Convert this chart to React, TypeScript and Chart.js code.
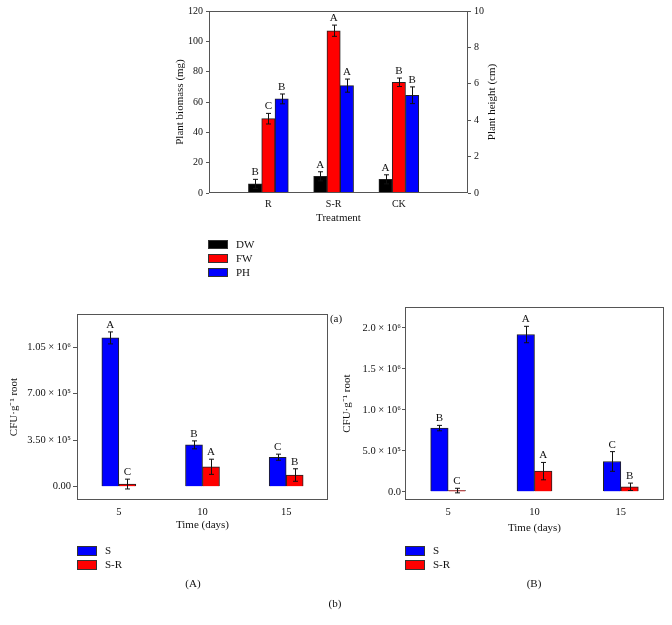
import React, { useEffect, useRef } from 'react';
import { Chart, registerables } from 'chart.js';

Chart.register(...registerables);

const FONT = '"Liberation Serif", "Times New Roman", Times, serif';
const INK = '#111111';
const AXIS = '#555555';
const BLUE = '#0000ff';
const RED = '#ff0000';
const BLACK = '#000000';

// ---------- (a) plant growth ----------
const treatments = ['R', 'S-R', 'CK'];
const dwValues = [6, 11, 9];
const dwErrors = [3, 3, 3];
const dwLetters = ['B', 'A', 'A'];
const fwValues = [49, 107, 73];
const fwErrors = [3.5, 3.7, 2.8];
const fwLetters = ['C', 'A', 'B'];
const phValues = [5.17, 5.9, 5.37];
const phErrors = [0.27, 0.36, 0.46];
const phLetters = ['B', 'A', 'B'];
const biomassTicks = [0, 20, 40, 60, 80, 100, 120];
const heightTicks = [0, 2, 4, 6, 8, 10];

// ---------- (b) colonisation ----------
const days = ['5', '10', '15'];

const sValuesA = [1120000, 315000, 222000];
const sErrorsA = [45000, 30000, 23000];
const sLettersA = ['A', 'B', 'C'];
const srValuesA = [20000, 150000, 88000];
const srErrorsA = [37000, 57000, 47000];
const srLettersA = ['C', 'A', 'B'];
const yTicksA = [0, 350000, 700000, 1050000];
const yTickLabelsA = ['0.00', '3.50 × 10⁵', '7.00 × 10⁵', '1.05 × 10⁶'];

const sValuesB = [777000, 1918000, 370000];
const sErrorsB = [33000, 100000, 120000];
const sLettersB = ['B', 'A', 'C'];
const srValuesB = [15000, 252000, 61000];
const srErrorsB = [28000, 106000, 45000];
const srLettersB = ['C', 'A', 'B'];
const yTicksB = [0, 500000, 1000000, 1500000, 2000000];
const yTickLabelsB = ['0.0', '5.0 × 10⁵', '1.0 × 10⁶', '1.5 × 10⁶', '2.0 × 10⁶'];

const font = (size: number) => ({ family: FONT, size, weight: 'normal' as const });

function errorPlugin(errors: number[][], letters: string[][]) {
  return {
    id: 'errorBars',
    afterDatasetsDraw(chart: any) {
      const ctx = chart.ctx;
      ctx.save();
      chart.data.datasets.forEach((ds: any, i: number) => {
        const meta = chart.getDatasetMeta(i);
        const scale = chart.scales[meta.yAxisID];
        meta.data.forEach((bar: any, j: number) => {
          const raw = ds.data[j];
          const v = typeof raw === 'object' ? raw.y : raw;
          const e = (errors[i] && errors[i][j]) || 0;
          const x = Math.round(bar.x) + 0.5;
          const yT = scale.getPixelForValue(v + e);
          const yB = scale.getPixelForValue(v - e);
          ctx.strokeStyle = INK;
          ctx.lineWidth = 1;
          ctx.beginPath();
          ctx.moveTo(x, yT);
          ctx.lineTo(x, yB);
          ctx.moveTo(x - 2.5, yT);
          ctx.lineTo(x + 2.5, yT);
          ctx.moveTo(x - 2.5, yB);
          ctx.lineTo(x + 2.5, yB);
          ctx.stroke();
          const L = letters[i] && letters[i][j];
          if (L) {
            ctx.fillStyle = INK;
            ctx.font = `11px ${FONT}`;
            ctx.textAlign = 'center';
            ctx.textBaseline = 'alphabetic';
            ctx.fillText(L, bar.x, yT - 4);
          }
        });
      });
      ctx.restore();
    },
  };
}

const framePlugin = {
  id: 'frame',
  afterDatasetsDraw(chart: any) {
    const { ctx, chartArea } = chart;
    const l = Math.round(chartArea.left) + 0.5;
    const t = Math.round(chartArea.top) + 0.5;
    const r = Math.round(chartArea.right) - 0.5;
    const b = Math.round(chartArea.bottom) - 0.5;
    ctx.save();
    ctx.strokeStyle = AXIS;
    ctx.lineWidth = 1;
    ctx.strokeRect(l, t, r - l, b - t);
    ctx.restore();
  },
};

function legendPlugin(x: number, y: number, w: number, h: number, row: number, textDx: number) {
  return {
    id: 'boxLegend',
    afterDraw(chart: any) {
      const ctx = chart.ctx;
      ctx.save();
      chart.data.datasets.forEach((ds: any, i: number) => {
        const yy = y + i * row;
        ctx.fillStyle = ds.backgroundColor;
        ctx.fillRect(x, yy, w, h);
        ctx.strokeStyle = '#333333';
        ctx.lineWidth = 1;
        ctx.strokeRect(x + 0.5, yy + 0.5, w - 1, h - 1);
        ctx.fillStyle = INK;
        ctx.font = `11px ${FONT}`;
        ctx.textAlign = 'left';
        ctx.textBaseline = 'middle';
        ctx.fillText(ds.label, x + textDx, yy + h / 2 + 0.5);
      });
      ctx.restore();
    },
  };
}

function rightTitlePlugin(text: string, x: number) {
  return {
    id: 'rightTitle',
    afterDraw(chart: any) {
      const { ctx, chartArea } = chart;
      ctx.save();
      ctx.translate(x, (chartArea.top + chartArea.bottom) / 2);
      ctx.rotate(-Math.PI / 2);
      ctx.fillStyle = INK;
      ctx.font = `11px ${FONT}`;
      ctx.textAlign = 'center';
      ctx.textBaseline = 'middle';
      ctx.fillText(text, 0, 0);
      ctx.restore();
    },
  };
}

function yAxis(o: any) {
  return {
    type: 'linear',
    position: o.position,
    min: o.min,
    max: o.max,
    afterBuildTicks: (s: any) => {
      s.ticks = o.ticks.map((v: number) => ({ value: v }));
    },
    afterFit: (s: any) => {
      s.width = o.width;
    },
    ticks: {
      font: font(o.fs || 10),
      color: INK,
      padding: o.pad,
      autoSkip: false,
      callback: o.callback,
    },
    grid: { display: true, drawOnChartArea: false, drawTicks: true, tickLength: o.tl, color: AXIS },
    border: { display: false },
    title: {
      display: !!o.title,
      text: o.title || '',
      font: font(11),
      color: INK,
      padding: { top: o.titlePad || 0, bottom: 0 },
    },
  };
}

const barStyle = { borderColor: '#222222', borderWidth: 1 };

function makeTopChart(): any {
  const toXY = (arr: number[]) => arr.map((v, i) => ({ x: i + 1, y: v }));
  return {
    type: 'bar',
    data: {
      datasets: [
        { label: 'DW', data: toXY(dwValues), backgroundColor: BLACK, ...barStyle, yAxisID: 'y', barThickness: 13.3 },
        { label: 'FW', data: toXY(fwValues), backgroundColor: RED, ...barStyle, yAxisID: 'y', barThickness: 13.3 },
        { label: 'PH', data: toXY(phValues), backgroundColor: BLUE, ...barStyle, yAxisID: 'y1', barThickness: 13.3 },
      ],
    },
    options: {
      responsive: false,
      animation: false,
      events: [],
      devicePixelRatio: 1,
      layout: { padding: { top: 11, left: 0, right: 0, bottom: 75 } },
      plugins: { legend: { display: false }, tooltip: { enabled: false } },
      scales: {
        x: {
          type: 'linear',
          min: 0.09,
          max: 4.06,
          offset: false,
          afterBuildTicks: (s: any) => {
            s.ticks = treatments.map((_, i) => ({ value: i + 1 }));
          },
          afterFit: (s: any) => {
            s.height = 32;
          },
          ticks: {
            font: font(10),
            color: INK,
            padding: 5,
            autoSkip: false,
            maxRotation: 0,
            callback: (v: number) => treatments[Math.round(v) - 1] || '',
          },
          grid: { display: false, drawTicks: false, tickLength: 0, offset: false },
          border: { display: false },
          title: { display: true, text: 'Treatment', font: font(11), color: INK, padding: { top: 0, bottom: 0 } },
        },
        y: yAxis({
          position: 'left', min: 0, max: 120, ticks: biomassTicks, width: 59, pad: 3, tl: 3,
          title: 'Plant biomass (mg)', titlePad: 24,
          callback: (v: number) => String(v),
        }),
        y1: yAxis({
          position: 'right', min: 0, max: 10, ticks: heightTicks, width: 52, pad: 3, tl: 3,
          callback: (v: number) => String(v),
        }),
      },
    },
    plugins: [
      framePlugin,
      errorPlugin([dwErrors, fwErrors, phErrors], [dwLetters, fwLetters, phLetters]),
      legendPlugin(58, 240, 20, 9, 14, 28),
      rightTitlePlugin('Plant height (cm)', 342),
    ],
  };
}

function makeTimeChart(p: any): any {
  return {
    type: 'bar',
    data: {
      labels: days,
      datasets: [
        { label: 'S', data: p.s, backgroundColor: BLUE, ...barStyle, barThickness: p.bw },
        { label: 'S-R', data: p.sr, backgroundColor: RED, ...barStyle, barThickness: p.bw },
      ],
    },
    options: {
      responsive: false,
      animation: false,
      events: [],
      devicePixelRatio: 1,
      layout: { padding: { top: p.top, left: 0, right: 8, bottom: p.bottom } },
      plugins: { legend: { display: false }, tooltip: { enabled: false } },
      scales: {
        x: {
          type: 'category',
          offset: true,
          afterFit: (s: any) => {
            s.height = p.xh;
          },
          ticks: { font: font(10.5), color: INK, padding: 6, autoSkip: false, maxRotation: 0 },
          grid: { display: false, drawTicks: false, tickLength: 0, offset: true },
          border: { display: false },
          title: { display: true, text: 'Time (days)', font: font(11), color: INK, padding: { top: 0, bottom: 0 } },
        },
        y: yAxis({
          position: 'left', min: p.min, max: p.max, ticks: p.ticks, width: p.yw, pad: p.pad, tl: p.tl,
          title: 'CFU·g⁻¹ root', titlePad: p.titlePad, fs: 10.5,
          callback: (v: number) => p.labels[p.ticks.indexOf(v)] ?? '',
        }),
      },
    },
    plugins: [
      framePlugin,
      errorPlugin([p.se, p.sre], [p.sl, p.srl]),
      legendPlugin(p.legX, 246, 20, 10, 14, 28),
    ],
  };
}

function ChartBox({ make, left, top, width, height }: any) {
  const ref = useRef<HTMLCanvasElement>(null);
  useEffect(() => {
    const chart = new Chart(ref.current as HTMLCanvasElement, make());
    return () => chart.destroy();
  }, []);
  return (
    <canvas
      ref={ref}
      width={width}
      height={height}
      style={{ position: 'absolute', left, top, width, height, display: 'block' }}
    />
  );
}

function Caption({ text, x, y }: any) {
  return (
    <span
      style={{
        position: 'absolute',
        left: x,
        top: y,
        transform: 'translate(-50%, -50%)',
        fontFamily: FONT,
        fontSize: 11,
        lineHeight: 1,
        color: INK,
        whiteSpace: 'nowrap',
      }}
    >
      {text}
    </span>
  );
}

export default function App() {
  return (
    <div style={{ position: 'absolute', left: 0, top: 0, width: 672, height: 625, background: '#ffffff', overflow: 'hidden' }}>
      <ChartBox make={makeTopChart} left={150} top={0} width={370} height={300} />
      <ChartBox
        make={() =>
          makeTimeChart({
            s: sValuesA, se: sErrorsA, sl: sLettersA,
            sr: srValuesA, sre: srErrorsA, srl: srLettersA,
            min: -100000, max: 1300000, ticks: yTicksA, labels: yTickLabelsA,
            top: 14, bottom: 68, xh: 32, yw: 77, pad: 2, tl: 4, titlePad: 8, bw: 17, legX: 77,
          })
        }
        left={0}
        top={300}
        width={336}
        height={300}
      />
      <ChartBox
        make={() =>
          makeTimeChart({
            s: sValuesB, se: sErrorsB, sl: sLettersB,
            sr: srValuesB, sre: srErrorsB, srl: srLettersB,
            min: -100000, max: 2250000, ticks: yTicksB, labels: yTickLabelsB,
            top: 7, bottom: 65, xh: 35, yw: 69, pad: 1, tl: 3, titlePad: 5, bw: 17.5, legX: 69,
          })
        }
        left={336}
        top={300}
        width={336}
        height={300}
      />
      <Caption text="(a)" x={336} y={318} />
      <Caption text="(A)" x={193} y={583} />
      <Caption text="(B)" x={534} y={583} />
      <Caption text="(b)" x={335} y={603} />
    </div>
  );
}
